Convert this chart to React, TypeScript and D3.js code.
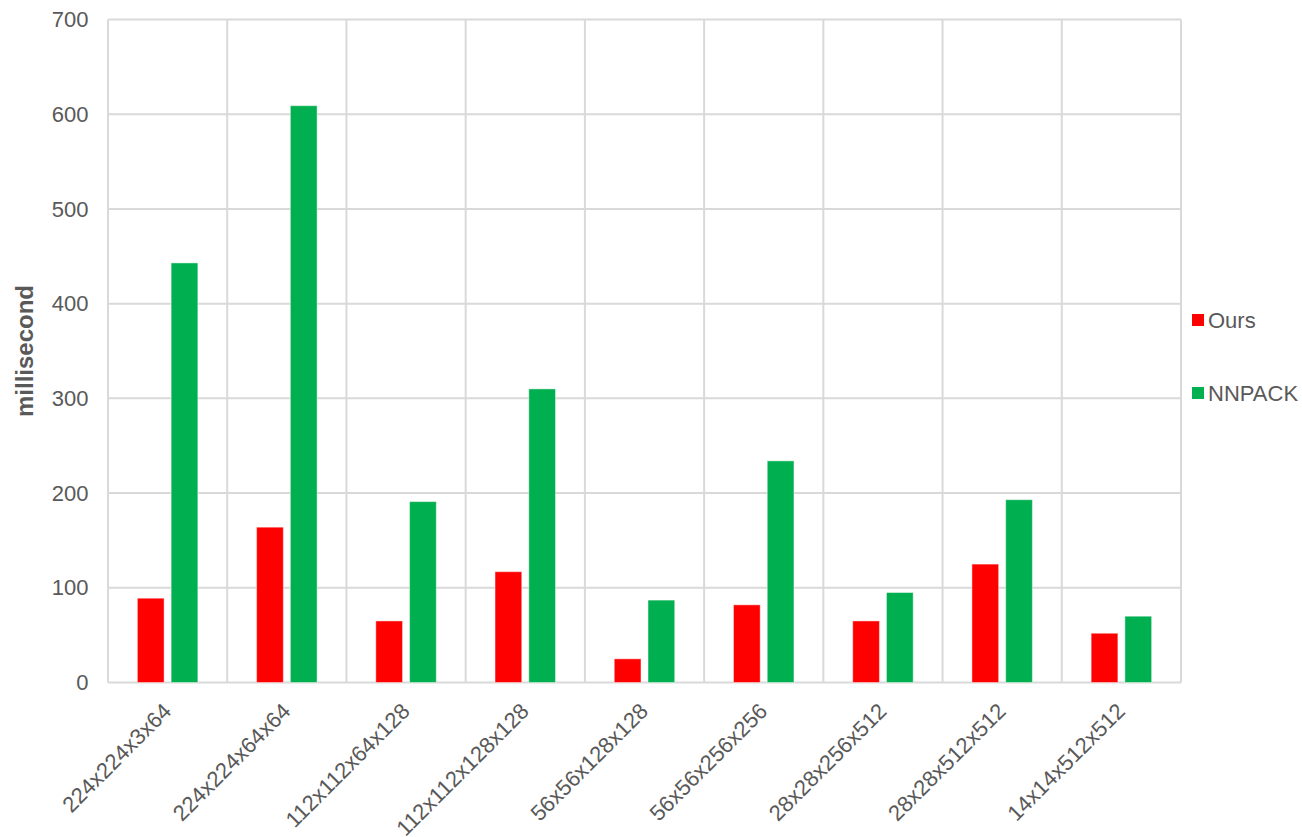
import React from "react";
import * as d3 from "d3";

// Convolution layer shapes (H x W x Cin x Cout)
const categories: string[] = [
  "224x224x3x64",
  "224x224x64x64",
  "112x112x64x128",
  "112x112x128x128",
  "56x56x128x128",
  "56x56x256x256",
  "28x28x256x512",
  "28x28x512x512",
  "14x14x512x512",
];

const seriesNames: string[] = ["Ours", "NNPACK"];

// Runtime in milliseconds
const oursValues: number[] = [89, 164, 65, 117, 25, 82, 65, 125, 52];
const nnpackValues: number[] = [443, 609, 191, 310, 87, 234, 95, 193, 70];

const yTicks: number[] = [0, 100, 200, 300, 400, 500, 600, 700];

const seriesColors: string[] = ["#FF0000", "#00B050"];

const WIDTH = 1302;
const HEIGHT = 837;
const margin = { left: 108, right: 121, top: 19.5, bottom: 154.5 };

const FONT = "'Liberation Sans', Arial, sans-serif";
const TEXT_COLOR = "#595959";
const GRID_COLOR = "#D9D9D9";

export default function App() {
  const innerLeft = margin.left;
  const innerRight = WIDTH - margin.right;
  const innerTop = margin.top;
  const innerBottom = HEIGHT - margin.bottom;

  const x = d3
    .scaleBand<string>()
    .domain(categories)
    .range([innerLeft, innerRight])
    .paddingInner(0)
    .paddingOuter(0);

  const xSeries = d3
    .scaleBand<string>()
    .domain(seriesNames)
    .range([0, x.bandwidth()])
    .paddingInner(0.208)
    .paddingOuter(0.87);

  const y = d3.scaleLinear().domain([0, 700]).range([innerBottom, innerTop]);

  const seriesData: number[][] = [oursValues, nnpackValues];

  const boundaries = categories.map((c) => x(c) as number).concat([innerRight]);

  return (
    <svg
      width={WIDTH}
      height={HEIGHT}
      style={{ position: "absolute", left: 0, top: 0, background: "#fff" }}
      fontFamily={FONT}
    >
      {/* horizontal gridlines */}
      {yTicks.map((t) => (
        <line
          key={`h${t}`}
          x1={innerLeft}
          x2={innerRight}
          y1={y(t)}
          y2={y(t)}
          stroke={GRID_COLOR}
          strokeWidth={2}
        />
      ))}
      {/* vertical category separators */}
      {boundaries.map((bx, i) => (
        <line
          key={`v${i}`}
          x1={bx}
          x2={bx}
          y1={innerTop}
          y2={innerBottom}
          stroke={GRID_COLOR}
          strokeWidth={2}
        />
      ))}

      {/* bars */}
      {seriesData.map((vals, si) =>
        vals.map((v, ci) => {
          const x0 = (x(categories[ci]) as number) + (xSeries(seriesNames[si]) as number);
          return (
            <rect
              key={`b${si}-${ci}`}
              x={x0}
              y={y(v)}
              width={xSeries.bandwidth()}
              height={y(0) - y(v)}
              fill={seriesColors[si]}
              stroke="#ffffff"
              strokeOpacity={0.45}
              strokeWidth={1}
            />
          );
        })
      )}

      {/* y tick labels */}
      {yTicks.map((t) => (
        <text
          key={`yt${t}`}
          x={88.5}
          y={y(t)}
          dy="0.35em"
          textAnchor="end"
          fontSize={22}
          fill={TEXT_COLOR}
        >
          {t}
        </text>
      ))}

      {/* x tick labels, rotated */}
      {categories.map((c) => {
        const cx = (x(c) as number) + x.bandwidth() / 2;
        return (
          <text
            key={`xt${c}`}
            transform={`translate(${cx + 5},${innerBottom + 30}) rotate(-45)`}
            textAnchor="end"
            fontSize={22}
            fill={TEXT_COLOR}
          >
            {c}
          </text>
        );
      })}

      {/* y axis title */}
      <text
        transform={`translate(33,351) rotate(-90)`}
        textAnchor="middle"
        fontSize={24}
        fontWeight="bold"
        fill={TEXT_COLOR}
      >
        millisecond
      </text>

      {/* legend */}
      {seriesNames.map((name, i) => {
        const cy = 320 + i * 73;
        return (
          <g key={`lg${name}`}>
            <rect x={1192} y={cy - 6} width={12} height={12} fill={seriesColors[i]} />
            <text x={1208} y={cy} dy="0.35em" fontSize={22} fill={TEXT_COLOR}>
              {name}
            </text>
          </g>
        );
      })}
    </svg>
  );
}
